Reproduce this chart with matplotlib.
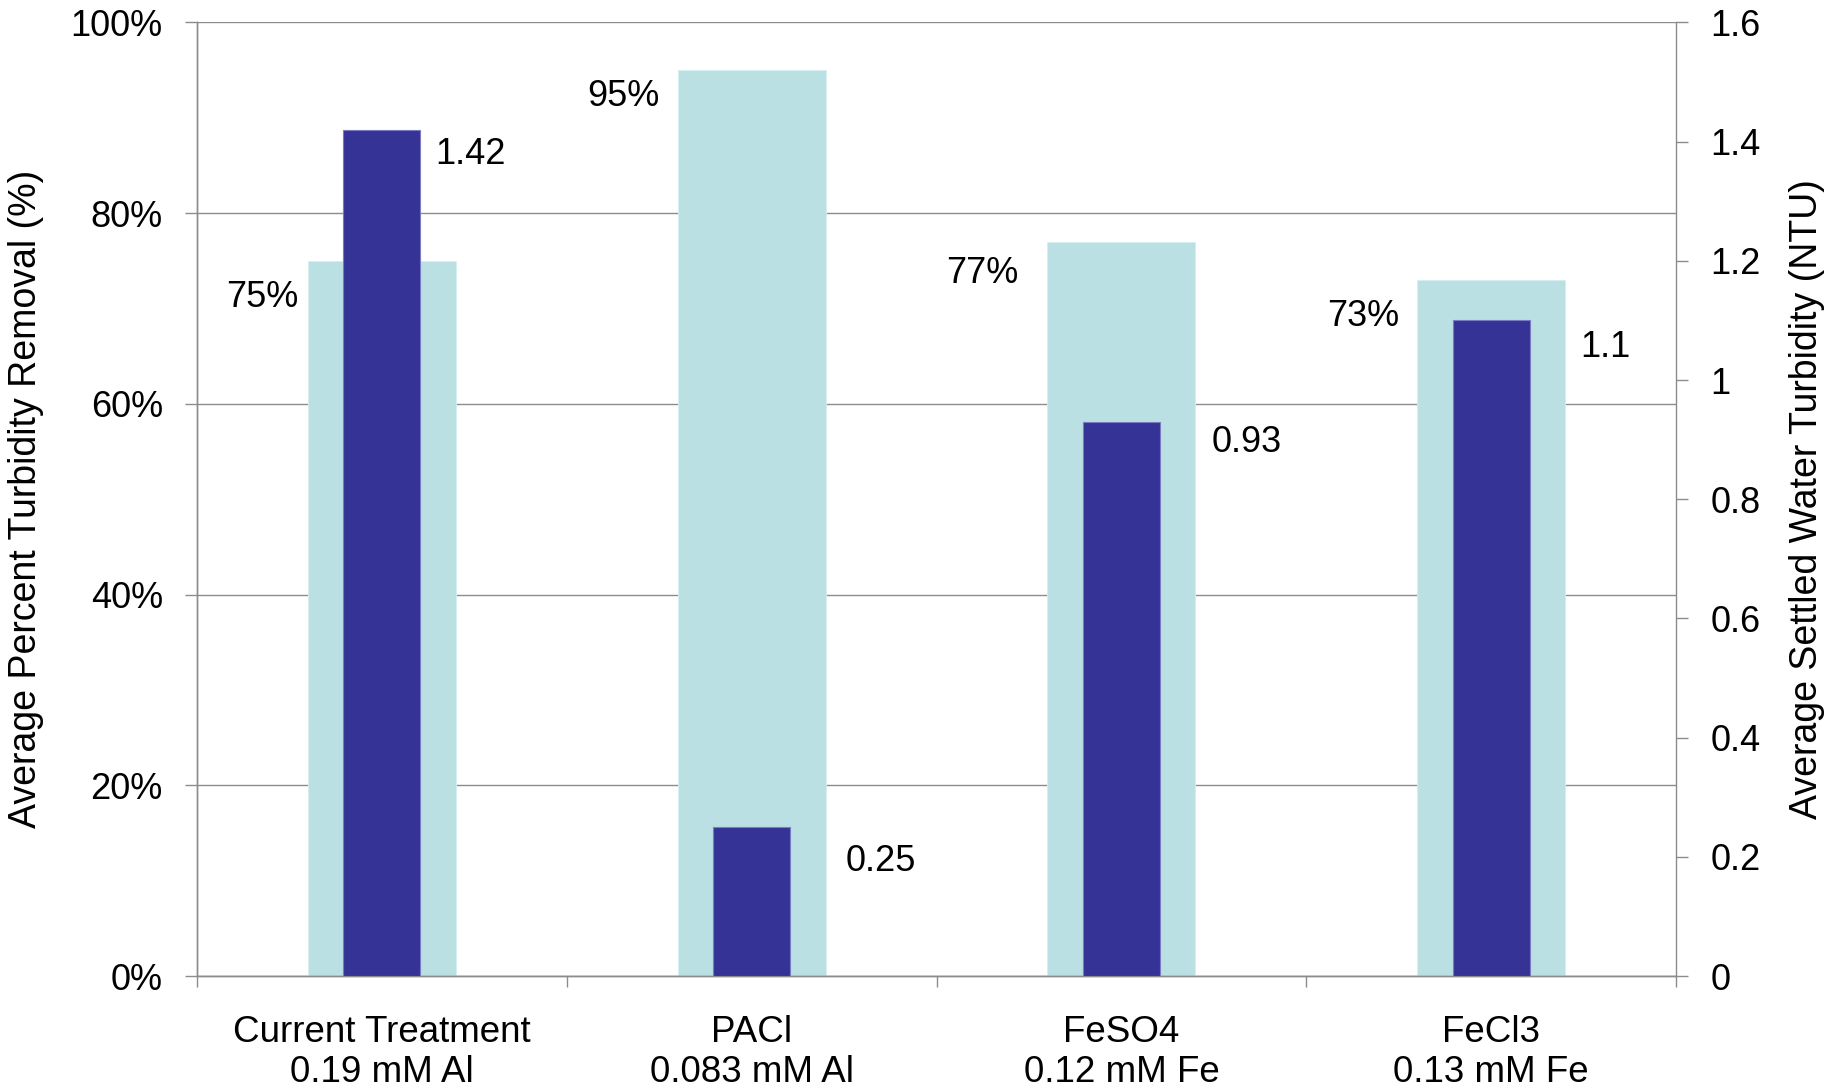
import numpy as np
import matplotlib.pyplot as plt

plt.rcParams['font.family'] = ['Liberation Sans', 'DejaVu Sans']

# Dati: coagulanti testati
categorie = ['Current Treatment\n0.19 mM Al', 'PACl\n0.083 mM Al',
             'FeSO4\n0.12 mM Fe', 'FeCl3\n0.13 mM Fe']
rimozione_pct = [75, 95, 77, 73]          # asse sinistro (%)
torbidita_ntu = [1.42, 0.25, 0.93, 1.1]   # asse destro (NTU)

tick_sx = [0, 20, 40, 60, 80, 100]
tick_dx = [0, 0.2, 0.4, 0.6, 0.8, 1, 1.2, 1.4, 1.6]

COL_CHIARO = '#bae0e3'
COL_SCURO = '#353395'
COL_ASSI = '#8c8c8c'
FS = 26

# spostamenti delle etichette (pixel): distanza dal bordo della barra, discesa dalla cima
off_pct = [(10, 46), (18, 36), (29, 41), (18, 46)]
off_ntu = [(15, 34), (56, 44), (52, 30), (51, 37)]

fig = plt.figure(figsize=(18.39, 10.91), dpi=100)
ax = fig.add_axes([0.1071, 0.1054, 0.8043, 0.874])
ax2 = ax.twinx()

x = np.arange(len(categorie))
w_chiaro = 0.40
w_scuro = 0.208

# Barre chiare: percentuale di rimozione
ax.bar(x, rimozione_pct, width=w_chiaro, color=COL_CHIARO,
       edgecolor='#d6eef0', linewidth=0.6, zorder=2)
# Barre scure: torbidità residua
ax2.bar(x, torbidita_ntu, width=w_scuro, color=COL_SCURO,
        edgecolor='#7b7bc4', linewidth=0.8, zorder=3)

ax.set_xlim(-0.5, len(categorie) - 0.5)
ax.set_ylim(0, 100)
ax2.set_ylim(0, 1.6)

# griglia orizzontale solo sull'asse primario
ax.set_axisbelow(True)
ax.set_yticks(tick_sx)
ax.set_yticklabels([f'{t}%' for t in tick_sx])
ax.yaxis.grid(True, color=COL_ASSI, linewidth=1.0)
ax2.set_yticks(tick_dx)
ax2.set_yticklabels([f'{t:g}' for t in tick_dx])

# etichette al centro, tacche ai confini tra categorie
ax.set_xticks(x)
ax.set_xticklabels(categorie, fontsize=26.5, linespacing=1.2)
ax.set_xticks(np.arange(len(categorie) + 1) - 0.5, minor=True)
ax.tick_params(axis='x', which='major', length=0, pad=28)
ax.tick_params(axis='x', which='minor', length=8, width=1.0,
               color=COL_ASSI, direction='out')
ax.tick_params(axis='y', length=8.6, width=1.0, color=COL_ASSI,
               pad=16, labelsize=FS)
ax2.tick_params(axis='y', length=8.6, width=1.0, color=COL_ASSI,
                pad=16, labelsize=FS)

for a in (ax, ax2):
    a.spines['top'].set_visible(False)
    for lato in ('left', 'right', 'bottom'):
        a.spines[lato].set_color(COL_ASSI)
        a.spines[lato].set_linewidth(1.0)
ax.spines['right'].set_visible(False)

# etichette valori
for i, v in enumerate(rimozione_pct):
    dx, dy = off_pct[i]
    ax.annotate(f'{v}%', xy=(x[i] - w_chiaro / 2, v), xytext=(-dx, -dy),
                textcoords='offset pixels', ha='right', va='baseline',
                fontsize=FS)
for i, v in enumerate(torbidita_ntu):
    dx, dy = off_ntu[i]
    ax2.annotate(f'{v:g}', xy=(x[i] + w_scuro / 2, v), xytext=(dx, -dy),
                 textcoords='offset pixels', ha='left', va='baseline',
                 fontsize=FS)

fig.text(0.0141, 0.5426, 'Average Percent Turbidity Removal (%)',
         rotation=90, ha='center', va='center', fontsize=27)
fig.text(0.9826, 0.5426, 'Average Settled Water Turbidity (NTU)',
         rotation=90, ha='center', va='center', fontsize=27)

fig.savefig('out.png', dpi=100)
